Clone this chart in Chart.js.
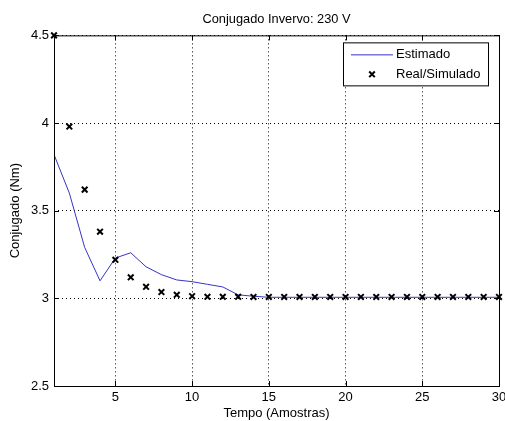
<!DOCTYPE html>
<html>
<head>
<meta charset="utf-8">
<script src="https://cdn.jsdelivr.net/npm/chart.js@4/dist/chart.umd.min.js"></script>
<style>
  html, body { margin: 0; padding: 0; background: #fff; }
  #wrap { width: 505px; height: 421px; }
</style>
</head>
<body>
<div id="wrap"><canvas id="c" width="505" height="421"></canvas></div>
<script>
/* Conjugado Invervo: 230 V — estimated vs real/simulated torque, MATLAB-style look. */
const amostras = [1, 2, 3, 4, 5, 6, 7, 8, 9, 10, 11, 12, 13, 14, 15, 16, 17, 18, 19, 20, 21, 22, 23, 24, 25, 26, 27, 28, 29, 30];
const estimado = [3.82, 3.60, 3.29, 3.10, 3.23, 3.26, 3.18, 3.135, 3.105, 3.095, 3.08, 3.065, 3.02, 3.012, 3.006, 3.006, 3.006, 3.006, 3.006, 3.006,
                  3.006, 3.006, 3.006, 3.006, 3.006, 3.006, 3.006, 3.006, 3.006, 3.006];
const realSim = [4.50, 3.98, 3.62, 3.38, 3.22, 3.12, 3.066, 3.036, 3.02, 3.012, 3.009, 3.009, 3.009, 3.008, 3.008, 3.008, 3.008, 3.008, 3.008, 3.008,
                 3.008, 3.008, 3.008, 3.008, 3.008, 3.008, 3.008, 3.008, 3.008, 3.008];
const xTicks = [5, 10, 15, 20, 25, 30];
const yTicks = [2.5, 3, 3.5, 4, 4.5];

const FONT = "'Liberation Sans', Arial, sans-serif";
const pts = (ys) => amostras.map((x, i) => ({ x, y: ys[i] }));

// box around plot area + inward ticks on all four sides + legend inside top-right
const matlabBox = {
  id: "matlabBox",
  afterDraw(chart) {
    const { ctx, chartArea: a, scales } = chart;
    ctx.save();
    ctx.strokeStyle = "#000"; ctx.lineWidth = 1; ctx.setLineDash([]);
    ctx.strokeRect(a.left + 0.5, a.top + 0.5, a.right - a.left, a.bottom - a.top);
    const tl = 5;
    ctx.beginPath();
    xTicks.forEach((v) => {
      const px = Math.round(scales.x.getPixelForValue(v)) + 0.5;
      ctx.moveTo(px, a.bottom); ctx.lineTo(px, a.bottom - tl);
      ctx.moveTo(px, a.top); ctx.lineTo(px, a.top + tl);
    });
    yTicks.forEach((v) => {
      const py = Math.round(scales.y.getPixelForValue(v)) + 0.5;
      ctx.moveTo(a.left, py); ctx.lineTo(a.left + tl, py);
      ctx.moveTo(a.right, py); ctx.lineTo(a.right - tl, py);
    });
    ctx.stroke();

    // legend
    const w = 145, h = 43;
    const lx = a.right - 11 - w, ly = a.top + 7;
    ctx.fillStyle = "#fff";
    ctx.fillRect(lx, ly, w, h);
    ctx.strokeRect(lx + 0.5, ly + 0.5, w, h);
    const ds = chart.data.datasets;
    ctx.font = "13px " + FONT;
    ctx.textBaseline = "middle";
    ctx.fillStyle = "#000";
    const y1 = ly + 12.5, y2 = ly + 32;
    ctx.strokeStyle = ds[0].borderColor; ctx.lineWidth = 1;
    ctx.beginPath(); ctx.moveTo(lx + 8, y1); ctx.lineTo(lx + 50, y1); ctx.stroke();
    ctx.fillText(ds[0].label, lx + 53, y1);
    ctx.strokeStyle = "#000"; ctx.lineWidth = 2;
    const mx = lx + 29, r = 2.8;
    ctx.beginPath();
    ctx.moveTo(mx - r, y2 - r); ctx.lineTo(mx + r, y2 + r);
    ctx.moveTo(mx + r, y2 - r); ctx.lineTo(mx - r, y2 + r);
    ctx.stroke();
    ctx.fillText(ds[1].label, lx + 53, y2);
    ctx.restore();
  }
};

new Chart(document.getElementById("c"), {
  type: "scatter",
  data: {
    datasets: [
      { label: "Estimado", data: pts(estimado), showLine: true, borderColor: "#3535c4", borderWidth: 1,
        pointRadius: 0, pointHoverRadius: 0, tension: 0, order: 2 },
      { label: "Real/Simulado", data: pts(realSim), showLine: false, pointStyle: "crossRot",
        pointRadius: 4, pointBorderWidth: 2, borderColor: "#000", backgroundColor: "#000", clip: false, order: 1 },
    ]
  },
  options: {
    responsive: false,
    animation: false,
    devicePixelRatio: 1,
    layout: { padding: { left: 0, right: 6, top: 0, bottom: 0 } },
    plugins: {
      legend: { display: false },
      tooltip: { enabled: false },
      title: { display: true, fullSize: false, text: "Conjugado Invervo: 230 V", color: "#000",
        font: { family: FONT, size: 12.8, weight: "normal" }, padding: { top: 12, bottom: 8 } },
    },
    scales: {
      x: {
        type: "linear", min: 1, max: 30,
        afterBuildTicks: (s) => { s.ticks = xTicks.map((v) => ({ value: v })); },
        afterFit: (s) => { s.height = 35; s.paddingLeft = 0; s.paddingRight = 0; },
        grid: { color: "#000", lineWidth: 1, drawTicks: false },
        border: { display: false, dash: [1, 3] },
        ticks: { color: "#000", padding: 4, maxRotation: 0, font: { family: FONT, size: 13 },
          callback: (v) => String(v) },
        title: { display: true, text: "Tempo (Amostras)", color: "#000", padding: { top: 0, bottom: 0 },
          font: { family: FONT, size: 13 } },
      },
      y: {
        type: "linear", min: 2.5, max: 4.5,
        afterBuildTicks: (s) => { s.ticks = yTicks.map((v) => ({ value: v })); },
        afterFit: (s) => { s.width = 54; s.paddingTop = 0; s.paddingBottom = 0; },
        grid: { color: "#000", lineWidth: 1, drawTicks: false },
        border: { display: false, dash: [1, 3] },
        ticks: { color: "#000", padding: 5, font: { family: FONT, size: 13 },
          callback: (v) => String(v) },
        title: { display: true, text: "Conjugado (Nm)", color: "#000", padding: { top: 8, bottom: 0 },
          font: { family: FONT, size: 13 } },
      }
    }
  },
  plugins: [matlabBox]
});
</script>
</body>
</html>
